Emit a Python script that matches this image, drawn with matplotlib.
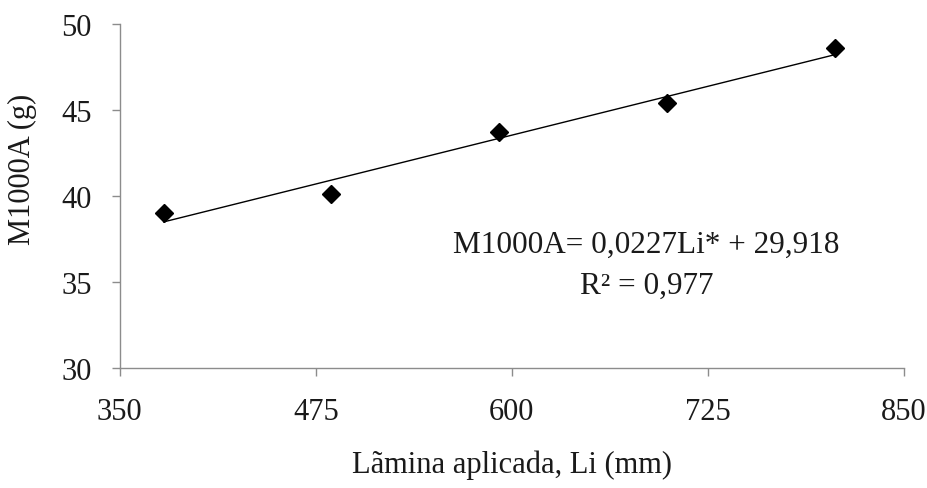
import matplotlib
matplotlib.use('Agg')
import numpy as np
import matplotlib.pyplot as plt

# dados
lamina = [378, 485, 592, 699, 806]
m1000a = [39.0, 40.1, 43.7, 45.4, 48.6]
coef_a = 0.0227
coef_b = 29.918
x_ticks = [350, 475, 600, 725, 850]
y_ticks = [30, 35, 40, 45, 50]

plt.rcParams['font.family'] = ['Liberation Serif', 'DejaVu Serif']

fig = plt.figure(figsize=(9.28, 4.89), dpi=100)
ax = fig.add_axes([0.129, 0.245, 0.845, 0.704])

# reta ajustada entre o primeiro e o último ponto
xl = np.array([lamina[0], lamina[-1]])
ax.plot(xl, coef_a * xl + coef_b, color='black', lw=1.0, zorder=2)
ax.plot(lamina, m1000a, linestyle='none', marker='D', ms=9.5,
        color='black', zorder=3)

ax.set_xlim(350, 850)
ax.set_ylim(30, 50)
ax.set_xticks(x_ticks)
ax.set_yticks(y_ticks)

for s in ['top', 'right']:
    ax.spines[s].set_visible(False)
for s in ['left', 'bottom']:
    ax.spines[s].set_color('#8c8c8c')
    ax.spines[s].set_linewidth(1.0)
ax.tick_params(direction='out', length=6, width=1.0, color='#8c8c8c',
               labelsize=22, labelcolor='#1a1a1a')
ax.tick_params(axis='x', pad=15)
ax.tick_params(axis='y', pad=14)

ax.set_xlabel('Lãmina aplicada, Li (mm)', fontsize=22, color='#1a1a1a',
              labelpad=17)
ax.set_ylabel('M1000A (g)', fontsize=22, color='#1a1a1a')
ax.yaxis.set_label_coords(-0.105, 0.58)

ax.text(686, 37.2, 'M1000A= 0,0227Li* + 29,918', ha='center', va='center',
        fontsize=22.5, color='#1a1a1a')
ax.text(686, 34.8, 'R² = 0,977', ha='center', va='center',
        fontsize=22.5, color='#1a1a1a')

fig.savefig('out.png', dpi=100)
